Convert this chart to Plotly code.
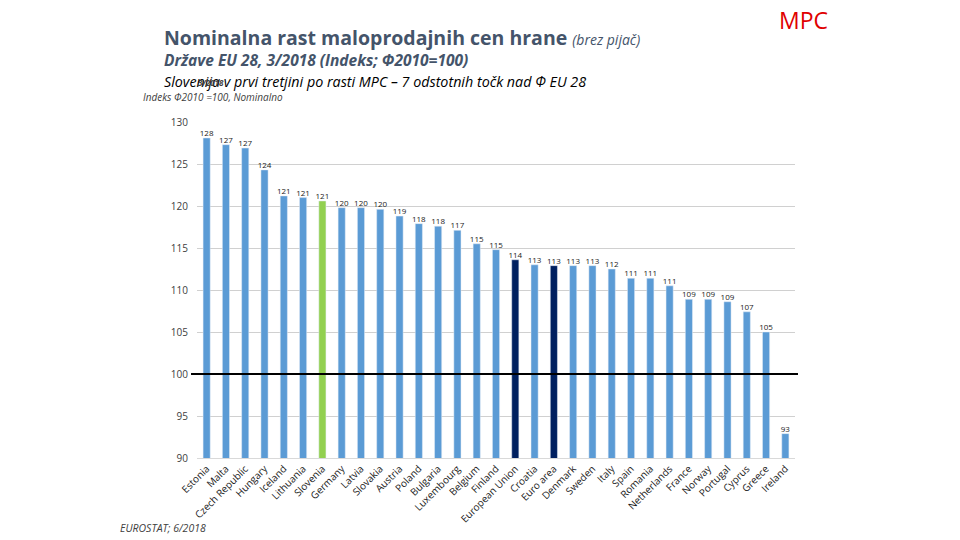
import plotly.graph_objects as go

countries = ["Estonia", "Malta", "Czech Republic", "Hungary", "Iceland", "Lithuania", "Slovenia",
             "Germany", "Latvia", "Slovakia", "Austria", "Poland", "Bulgaria", "Luxembourg",
             "Belgium", "Finland", "European Union", "Croatia", "Euro area", "Denmark", "Sweden",
             "Italy", "Spain", "Romania", "Netherlands", "France", "Norway", "Portugal", "Cyprus",
             "Greece", "Ireland"]
values = [128.1, 127.3, 126.9, 124.3, 121.2, 121.0, 120.6, 119.8, 119.8, 119.6, 118.8, 117.9,
          117.6, 117.1, 115.5, 114.8, 113.6, 113.0, 112.9, 112.9, 112.9, 112.5, 111.4, 111.4,
          110.5, 108.9, 108.9, 108.6, 107.4, 105.0, 92.9]
labels = ["128", "127", "127", "124", "121", "121", "121", "120", "120", "120", "119", "118",
          "118", "117", "115", "115", "114", "113", "113", "113", "113", "112", "111", "111",
          "111", "109", "109", "109", "107", "105", "93"]
y_ticks = [90, 95, 100, 105, 110, 115, 120, 125, 130]

BLUE = "#5B9BD5"
GREEN = "#92D050"
NAVY = "#002060"
colors = []
for c in countries:
    if c == "Slovenia":
        colors.append(GREEN)
    elif c in ("European Union", "Euro area"):
        colors.append(NAVY)
    else:
        colors.append(BLUE)

L, R, T, B = 197, 795, 122, 458
W, H = R - L, B - T


def px(x):
    return (x - L) / W


def py(y):
    return (B - y) / H


FONT = "Open Sans"

fig = go.Figure()
fig.add_trace(go.Bar(
    x=countries, y=values, marker_color=colors, width=0.37, hoverinfo="skip",
))
fig.add_trace(go.Scatter(
    x=countries, y=values, mode="text", text=labels, textposition="top center",
    cliponaxis=False, textfont=dict(size=8, color="#1a1a1a", family=FONT),
))

fig.add_shape(type="line", xref="paper", yref="y", x0=-0.01, x1=1.005, y0=100, y1=100,
              line=dict(color="black", width=2))

ann = []


def add(x, y, text, size, color="black", xanchor="left", yanchor="middle", family=FONT):
    ann.append(dict(x=px(x), y=py(y), xref="paper", yref="paper", text=text, showarrow=False,
                    xanchor=xanchor, yanchor=yanchor, font=dict(size=size, color=color, family=family)))


add(162, 37, "<b>Nominalna rast maloprodajnih cen hrane</b> <span style='font-size:14px'><i>(brez pijač)</i></span>",
    19.5, color="#44546A")
add(162, 60, "<b><i>Države EU 28, 3/2018 (Indeks; Φ2010=100)</i></b>", 15.5, color="#44546A")
add(162, 81, "<i>Slovenija v prvi tretjini po rasti MPC – 7 odstotnih točk nad Φ EU 28</i>", 14.3, color="black")
add(196, 82, "<b><i>3/2018</i></b>", 8, color="#404040")
add(141, 97.5, "<i>Indeks Φ2010 =100, Nominalno</i>", 10, color="#404040")
add(777, 20, "MPC", 23, color="#E00000")
add(118, 528, "<i>EUROSTAT; 6/2018</i>", 10.5, color="#404040")

fig.update_layout(
    width=960, height=540,
    margin=dict(l=L, r=960 - R, t=T, b=540 - B),
    paper_bgcolor="white", plot_bgcolor="white",
    showlegend=False,
    annotations=ann,
    bargap=0.6,
)
fig.update_xaxes(tickangle=-45, tickfont=dict(size=10, color="#1a1a1a", family=FONT),
                 range=[-0.5, len(countries) - 0.5],
                 showline=True, linecolor="#D9D9D9", linewidth=1, ticks="")
fig.update_yaxes(range=[90, 130], tickvals=y_ticks, showgrid=True, gridcolor="#D0D0D0", gridwidth=1,
                 tickfont=dict(size=10, color="#404040", family=FONT), zeroline=False, ticks="",
                 ticklabelstandoff=8)

fig.write_html("out.html")
